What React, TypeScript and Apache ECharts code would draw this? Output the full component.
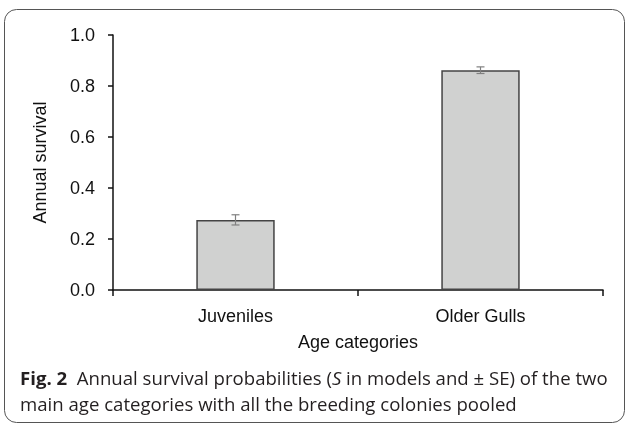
import React, { useEffect, useRef } from "react";
import * as echarts from "echarts";

const categories = ["Juveniles", "Older Gulls"];
const survival = [0.275, 0.862];
const standardError = [0.02, 0.013];
const yTicks = [0, 0.2, 0.4, 0.6, 0.8, 1.0];
const yAxisTitle = "Annual survival";
const xAxisTitle = "Age categories";

export default function App() {
  const ref = useRef<HTMLDivElement>(null);
  useEffect(() => {
    if (!ref.current) return;
    const chart = echarts.init(ref.current, undefined, { renderer: "svg" });
    const errData = categories.map((c, i) => [i, survival[i] - standardError[i], survival[i] + standardError[i]]);
    const capFont = "Open Sans";
    const capSize = 18.6;
    chart.setOption({
      animation: false,
      grid: { left: 113, right: 25, top: 35, bottom: 133, containLabel: false },
      xAxis: {
        type: "category",
        data: categories,
        boundaryGap: true,
        name: xAxisTitle,
        nameLocation: "middle",
        nameGap: 43,
        nameTextStyle: { fontFamily: "Liberation Sans, Arial", fontSize: 18, color: "#111" },
        axisLine: { lineStyle: { color: "#111", width: 1.5 } },
        axisTick: { show: true, length: 6, inside: false, alignWithLabel: false, lineStyle: { color: "#111", width: 1.5 } },
        axisLabel: { fontFamily: "Liberation Sans, Arial", fontSize: 18, color: "#111", margin: 17 },
      },
      yAxis: {
        type: "value",
        min: yTicks[0],
        max: yTicks[yTicks.length - 1],
        interval: 0.2,
        name: yAxisTitle,
        nameLocation: "middle",
        nameGap: 64,
        nameTextStyle: { fontFamily: "Liberation Sans, Arial", fontSize: 18, color: "#111" },
        axisLine: { show: true, lineStyle: { color: "#111", width: 1.5 } },
        axisTick: { show: true, length: 5, lineStyle: { color: "#111", width: 1.5 } },
        splitLine: { show: false },
        axisLabel: {
          fontFamily: "Liberation Sans, Arial",
          fontSize: 18,
          color: "#111",
          margin: 18,
          formatter: (v: number) => v.toFixed(1),
        },
      },
      series: [
        {
          type: "bar",
          data: survival,
          barWidth: "32%",
          itemStyle: { color: "#d0d1d0", borderColor: "#444", borderWidth: 1.5 },
        },
        {
          type: "custom",
          data: errData,
          z: 10,
          renderItem: (params: any, api: any) => {
            const x = api.value(0);
            const pHi = api.coord([x, api.value(2)]);
            const pLo = api.coord([x, api.value(1)]);
            const half = 4;
            const st = { stroke: "#808080", lineWidth: 1.2 };
            return {
              type: "group",
              children: [
                { type: "line", shape: { x1: pHi[0], y1: pHi[1], x2: pLo[0], y2: pLo[1] }, style: st },
                { type: "line", shape: { x1: pHi[0] - half, y1: pHi[1], x2: pHi[0] + half, y2: pHi[1] }, style: st },
                { type: "line", shape: { x1: pLo[0] - half, y1: pLo[1], x2: pLo[0] + half, y2: pLo[1] }, style: st },
              ],
            };
          },
        },
      ],
      graphic: [
        {
          type: "rect",
          shape: { x: 4.5, y: 9.5, width: 620, height: 413, r: 12 },
          style: { fill: "none", stroke: "#555", lineWidth: 1 },
          silent: true,
        },
        {
          type: "text",
          left: 20,
          top: 364,
          style: {
            text: "{b|Fig. 2}  Annual survival probabilities ({i|S} in models and ± SE) of the two\nmain age categories with all the breeding colonies pooled",
            fontFamily: capFont,
            fontSize: capSize,
            lineHeight: 26,
            fill: "#231f20",
            rich: {
              b: { fontFamily: capFont, fontWeight: "bold", fontSize: capSize, lineHeight: 26, fill: "#231f20" },
              i: { fontFamily: capFont, fontStyle: "italic", fontSize: capSize, lineHeight: 26, fill: "#231f20" },
            },
          },
        },
      ],
    });
    return () => chart.dispose();
  }, []);
  return <div ref={ref} style={{ position: "fixed", left: 0, top: 0, width: 628, height: 423 }} />;
}
